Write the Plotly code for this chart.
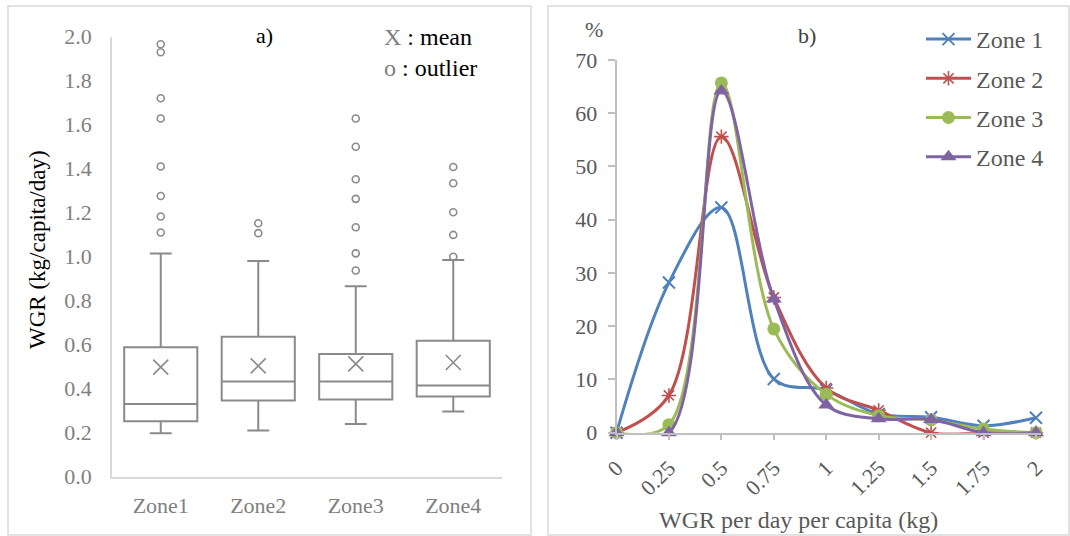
import plotly.graph_objects as go

W, H = 1070, 536

# ---- a) box plot data (kg/capita/day) ----
zones = ["Zone1", "Zone2", "Zone3", "Zone4"]
q1 = [0.252, 0.346, 0.351, 0.365]
median = [0.331, 0.433, 0.433, 0.415]
q3 = [0.588, 0.636, 0.558, 0.618]
lower_whisker = [0.198, 0.210, 0.240, 0.296]
upper_whisker = [1.015, 0.980, 0.866, 0.985]
means = [0.498, 0.504, 0.513, 0.519]
outliers_zone1 = [1.966, 1.929, 1.720, 1.628, 1.410, 1.276, 1.183, 1.110]
outliers_zone2 = [1.152, 1.107]
outliers_zone3 = [1.628, 1.500, 1.352, 1.263, 1.134, 1.015, 0.937]
outliers_zone4 = [1.408, 1.334, 1.202, 1.099, 1.000]

# ---- b) distribution of WGR per day per capita (%) ----
wgr_bins = [0, 0.25, 0.5, 0.75, 1, 1.25, 1.5, 1.75, 2]
bin_labels = ["0", "0.25", "0.5", "0.75", "1", "1.25", "1.5", "1.75", "2"]
zone1_pct = [0, 28.2, 42.3, 10.1, 8.0, 3.5, 2.9, 1.3, 2.8]
zone2_pct = [0, 7.0, 55.6, 25.4, 8.4, 4.2, 0, 0, 0]
zone3_pct = [0, 1.5, 65.7, 19.5, 7.2, 3.2, 2.4, 0.7, 0]
zone4_pct = [0, 0, 64.2, 25.1, 5.2, 2.6, 2.5, 0, 0]

SERIF = "Liberation Serif, Times New Roman, serif"
GREY = "#808080"
DARK = "#595959"


def px_x(v):
    return v / W


def px_y(v):
    return 1 - v / H


def label(text, x, y, size=22, color="black", xanchor="center", **kw):
    return dict(text=text, x=px_x(x), y=px_y(y), xref="paper", yref="paper",
                xanchor=xanchor, yanchor="middle", showarrow=False,
                font=dict(family=SERIF, size=size, color=color), **kw)


fig = go.Figure()

# box plots
fig.add_trace(go.Box(
    x=zones, q1=q1, median=median, q3=q3,
    lowerfence=lower_whisker, upperfence=upper_whisker,
    boxpoints=False, width=0.75, whiskerwidth=0.3,
    fillcolor="rgba(255,255,255,0)",
    line=dict(color="#8a8a8a", width=2),
    xaxis="x", yaxis="y", showlegend=False, hoverinfo="y",
))

# outliers
out_x, out_y = [], []
for z, vals in zip(zones, [outliers_zone1, outliers_zone2, outliers_zone3, outliers_zone4]):
    out_x += [z] * len(vals)
    out_y += vals
fig.add_trace(go.Scatter(
    x=out_x, y=out_y, mode="markers", xaxis="x", yaxis="y", showlegend=False,
    marker=dict(symbol="circle-open", size=7, color="#8a8a8a", line=dict(width=1.6)),
    cliponaxis=False,
))

# means
fig.add_trace(go.Scatter(
    x=zones, y=means, mode="markers", xaxis="x", yaxis="y", showlegend=False,
    marker=dict(symbol="x-thin", size=15, color="#8a8a8a", line=dict(width=1.6, color="#8a8a8a")),
))

# distribution curves
series = [
    ("Zone 1", zone1_pct, "#4F81BD", dict(symbol="x-thin", size=12, line=dict(width=2, color="#4F81BD"))),
    ("Zone 2", zone2_pct, "#C0504D", dict(symbol="asterisk", size=12, line=dict(width=1.6, color="#C0504D"))),
    ("Zone 3", zone3_pct, "#9BBB59", dict(symbol="circle", size=13)),
    ("Zone 4", zone4_pct, "#8064A2", dict(symbol="triangle-up", size=14)),
]
for name, vals, col, mk in series:
    fig.add_trace(go.Scatter(
        x=wgr_bins, y=vals, name=name, mode="lines+markers",
        xaxis="x2", yaxis="y2", legendgroup=name,
        line=dict(color=col, width=3, shape="spline", smoothing=1),
        marker=dict(color=col, **mk), cliponaxis=False,
    ))

fig.update_layout(
    width=W, height=H, autosize=False,
    margin=dict(l=0, r=0, t=0, b=0, pad=0, autoexpand=False),
    paper_bgcolor="white", plot_bgcolor="white",
    font=dict(family=SERIF, size=22, color=DARK),
    xaxis=dict(
        domain=[px_x(112), px_x(502)], anchor="y", type="category", automargin=False,
        range=[-0.5, 3.5], showline=True, linecolor="#d9d9d9", linewidth=1.5,
        showgrid=False, ticks="", tickfont=dict(family=SERIF, size=22, color=GREY),
        ticklabelstandoff=8,
    ),
    yaxis=dict(
        domain=[px_y(476.7), px_y(36.7)], anchor="x", range=[0, 2], dtick=0.2, automargin=False,
        tickformat=".1f", showline=True, linecolor="#d9d9d9", linewidth=1.5,
        showgrid=False, zeroline=False, ticks="",
        tickfont=dict(family=SERIF, size=22, color=GREY), ticklabelstandoff=14,
    ),
    xaxis2=dict(
        domain=[px_x(616.5), px_x(1041)], anchor="y2", range=[0, 2.024], automargin=False,
        tickvals=wgr_bins, ticktext=bin_labels, tickangle=-45,
        showline=True, linecolor="#bfbfbf", linewidth=1.5, showgrid=False,
        zeroline=False, ticks="outside", ticklen=6, tickcolor="#bfbfbf", tickwidth=1.5,
        tickfont=dict(family=SERIF, size=22, color=DARK), ticklabelstandoff=6,
    ),
    yaxis2=dict(
        domain=[px_y(432.7), px_y(60)], anchor="x2", range=[0, 70], dtick=10, automargin=False,
        showline=True, linecolor="#bfbfbf", linewidth=1.5, showgrid=False,
        zeroline=False, ticks="outside", ticklen=7, tickcolor="#bfbfbf", tickwidth=1.5,
        tickfont=dict(family=SERIF, size=22, color=DARK), ticklabelstandoff=6,
    ),
    legend=dict(
        x=px_x(921), y=px_y(17), xanchor="left", yanchor="top",
        font=dict(family=SERIF, size=24, color=DARK), itemwidth=45,
        traceorder="grouped", tracegroupgap=5, bgcolor="rgba(0,0,0,0)",
    ),
    shapes=[
        dict(type="rect", xref="paper", yref="paper",
             x0=px_x(8), x1=px_x(531), y0=px_y(535), y1=px_y(6),
             line=dict(color="#d9d9d9", width=1.5)),
        dict(type="rect", xref="paper", yref="paper",
             x0=px_x(548), x1=px_x(1069), y0=px_y(535), y1=px_y(6),
             line=dict(color="#d9d9d9", width=1.5)),
    ],
    annotations=[
        label("WGR (kg/capita/day)", 37, 250, size=23, textangle=-90),
        label("a)", 264, 36),
        label("<span style='color:#808080'>X</span> : mean", 382, 37, size=24, xanchor="left"),
        label("<span style='color:#808080'>o</span> : outlier", 382, 68, size=24, xanchor="left"),
        label("%", 594, 30, color=DARK),
        label("b)", 807, 35, color="#404040"),
        label("WGR per day per capita (kg)", 798, 520, size=24, color=DARK),
    ],
)

fig.write_html("out.html")
